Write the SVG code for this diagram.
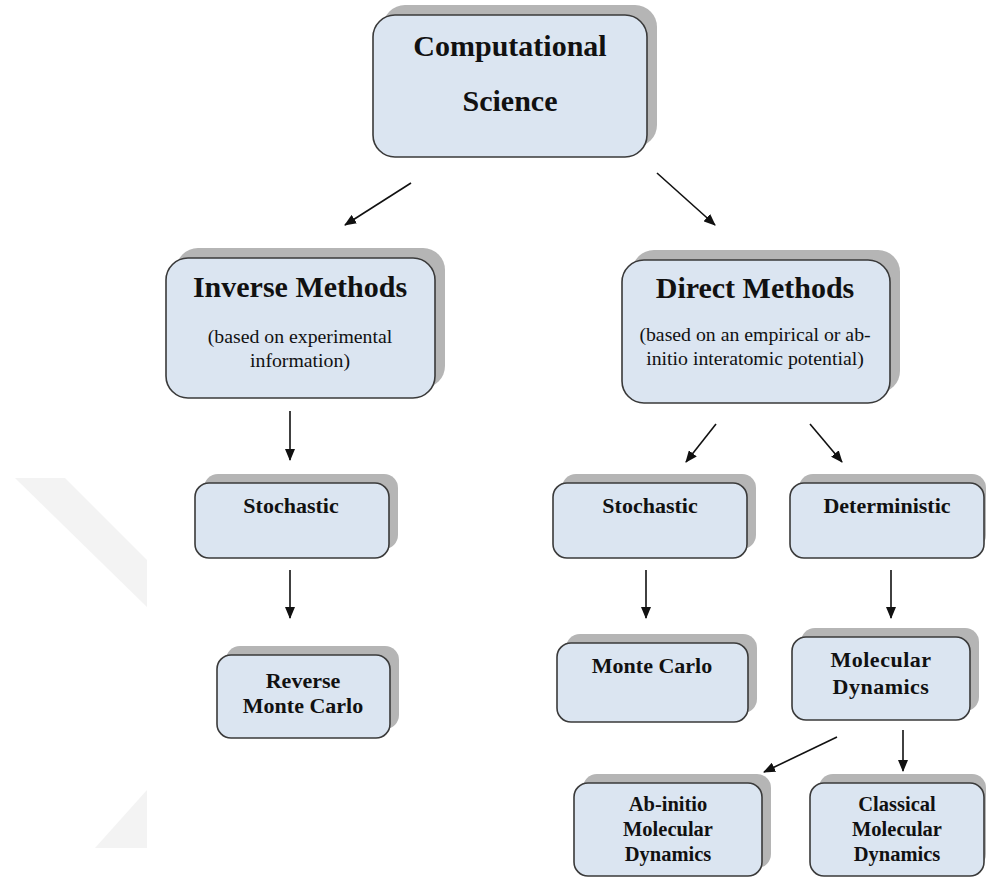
<svg xmlns="http://www.w3.org/2000/svg" width="986" height="878" viewBox="0 0 986 878">
<style>
.box{fill:#dbe5f1;stroke:#3a3a3a;stroke-width:1.6}
.sh{fill:#b5b5b5}
text{font-family:'Liberation Serif','DejaVu Serif',serif;fill:#111;text-anchor:middle}
.big{font-size:30px;font-weight:bold}
.sm{font-size:22px;font-weight:bold}
.xs{font-size:20.5px;font-weight:bold}
.sub{font-size:19.8px}
.c{stroke:#111;stroke-width:1.6;fill:none;marker-end:url(#ah)}
</style>
<defs>
<marker id="ah" markerUnits="userSpaceOnUse" markerWidth="12" markerHeight="10" refX="11" refY="5" orient="auto">
<path d="M0,0 L12,5 L0,10 Z" fill="#111"/>
</marker>
</defs>
<rect width="986" height="878" fill="#fff"/>
<g id="watermark" fill="#f3f3f3">
<polygon points="15,478 65,478 147,560 147,607"/>
<polygon points="147,790 95,848 147,848"/>
</g>
<g id="computational-science">
<rect class="sh" x="383" y="5" width="274" height="142" rx="22"/>
<rect class="box" x="373" y="15" width="274" height="142" rx="22"/>
<text class="big" x="510" y="56">Computational</text>
<text class="big" x="510" y="111">Science</text>
</g>
<g id="inverse-methods">
<rect class="sh" x="176" y="248" width="269" height="140" rx="22"/>
<rect class="box" x="166" y="258" width="269" height="140" rx="22"/>
<text class="big" x="300" y="297">Inverse Methods</text>
<text class="sub" x="300" y="343">(based on experimental</text>
<text class="sub" x="300" y="367">information)</text>
</g>
<g id="direct-methods">
<rect class="sh" x="632" y="250" width="268" height="143" rx="22"/>
<rect class="box" x="622" y="260" width="268" height="143" rx="22"/>
<text class="big" x="755" y="298">Direct Methods</text>
<text class="sub" x="755" y="341">(based on an empirical or ab-</text>
<text class="sub" x="755" y="365">initio interatomic potential)</text>
</g>
<g id="stochastic-inverse">
<rect class="sh" x="204" y="474" width="194" height="75" rx="14"/>
<rect class="box" x="195" y="483" width="194" height="75" rx="14"/>
<text class="sm" x="291" y="513">Stochastic</text>
</g>
<g id="stochastic-direct">
<rect class="sh" x="562" y="474" width="194" height="75" rx="14"/>
<rect class="box" x="553" y="483" width="194" height="75" rx="14"/>
<text class="sm" x="650" y="513">Stochastic</text>
</g>
<g id="deterministic">
<rect class="sh" x="799" y="474" width="187" height="75" rx="14"/>
<rect class="box" x="790" y="483" width="194" height="75" rx="14"/>
<text class="sm" x="887" y="513">Deterministic</text>
</g>
<g id="reverse-monte-carlo">
<rect class="sh" x="226" y="646" width="173" height="83" rx="14"/>
<rect class="box" x="217" y="655" width="173" height="83" rx="14"/>
<text class="sm" x="303" y="688">Reverse</text>
<text class="sm" x="303" y="713">Monte Carlo</text>
</g>
<g id="monte-carlo">
<rect class="sh" x="566" y="634" width="191" height="79" rx="14"/>
<rect class="box" x="557" y="643" width="191" height="79" rx="14"/>
<text class="sm" x="652" y="673">Monte Carlo</text>
</g>
<g id="molecular-dynamics">
<rect class="sh" x="801" y="628" width="178" height="83" rx="14"/>
<rect class="box" x="792" y="637" width="178" height="83" rx="14"/>
<text class="sm" x="881" y="667" letter-spacing="0.5">Molecular</text>
<text class="sm" x="881" y="694" letter-spacing="0.5">Dynamics</text>
</g>
<g id="ab-initio-md">
<rect class="sh" x="583" y="774" width="188" height="94" rx="14"/>
<rect class="box" x="574" y="783" width="188" height="93" rx="14"/>
<text class="xs" x="668" y="811">Ab-initio</text>
<text class="xs" x="668" y="836">Molecular</text>
<text class="xs" x="668" y="861">Dynamics</text>
</g>
<g id="classical-md">
<rect class="sh" x="819" y="774" width="167" height="94" rx="14"/>
<rect class="box" x="810" y="783" width="174" height="93" rx="14"/>
<text class="xs" x="897" y="811">Classical</text>
<text class="xs" x="897" y="836">Molecular</text>
<text class="xs" x="897" y="861">Dynamics</text>
</g>
<g id="connectors">
<line class="c" x1="411" y1="183" x2="345" y2="225"/>
<line class="c" x1="657" y1="173" x2="715" y2="225"/>
<line class="c" x1="290" y1="411" x2="290" y2="460"/>
<line class="c" x1="716" y1="424" x2="686" y2="462"/>
<line class="c" x1="810" y1="424" x2="842" y2="462"/>
<line class="c" x1="290" y1="570" x2="290" y2="618"/>
<line class="c" x1="646" y1="570" x2="646" y2="618"/>
<line class="c" x1="891" y1="570" x2="891" y2="618"/>
<line class="c" x1="837" y1="737" x2="764" y2="772"/>
<line class="c" x1="903" y1="730" x2="903" y2="771"/>
</g>
</svg>
